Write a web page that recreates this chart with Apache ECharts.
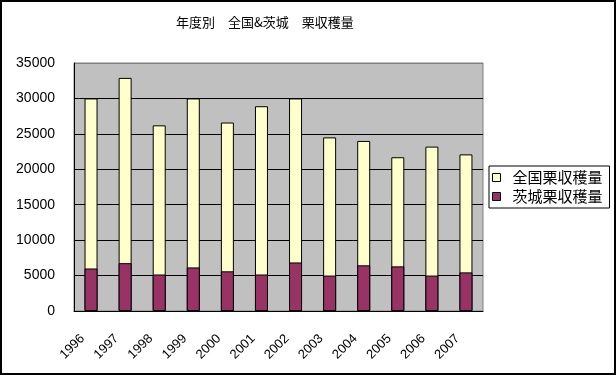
<!DOCTYPE html>
<html><head><meta charset="utf-8">
<script src="https://cdn.jsdelivr.net/npm/echarts@6/dist/echarts.min.js"></script>
<style>html,body{margin:0;padding:0;background:#fff}#c{width:616px;height:375px}</style>
</head><body><div id="c"></div>
<script>
const years = ['1996','1997','1998','1999','2000','2001','2002','2003','2004','2005','2006','2007'];
const nationalHarvest = [30000, 32900, 26200, 30000, 26600, 28900, 30000, 24500, 24000, 21700, 23200, 22100];
const ibarakiHarvest = [6000, 6750, 5150, 6150, 5600, 5150, 6850, 5000, 6450, 6300, 5000, 5450];
const nameNational = '全国栗収穫量';
const nameIbaraki = '茨城栗収穫量';
const titleText = '年度別　全国&茨城　栗収穫量';

const chart = echarts.init(document.getElementById('c'), null, {renderer:'canvas'});
const numFont = 'Liberation Sans';
const cjkFont = 'Noto Sans CJK JP';
chart.setOption({
  animation:false,
  backgroundColor:'#fff',
  title:{text:titleText,left:176,top:16,padding:0,textStyle:{fontFamily:cjkFont,fontSize:13,fontWeight:'normal',color:'#000'}},
  graphic:[{type:'rect',shape:{x:1,y:1,width:614,height:373},style:{fill:'none',stroke:'#000',lineWidth:2},silent:true,z:100}],
  legend:{orient:'vertical',left:489,top:166,padding:[4,7,4,3],itemGap:4,itemWidth:8,itemHeight:8,
    backgroundColor:'#fff',borderColor:'#000',borderWidth:1,
    icon:'rect',
    itemStyle:{borderColor:'#000',borderWidth:1},
    textStyle:{fontFamily:cjkFont,fontSize:15,color:'#000',padding:[0,0,0,7]},
    data:[nameNational,nameIbaraki]},
  grid:{left:74,right:133,top:63,bottom:64,show:true,backgroundColor:'#C0C0C0',borderColor:'#808080',borderWidth:1},
  xAxis:{type:'category',data:years,
    axisLine:{lineStyle:{color:'#000',width:1}},
    axisTick:{inside:true,length:4,lineStyle:{color:'#000'}},
    axisLabel:{rotate:45,margin:17,padding:[0,12,0,0],fontFamily:numFont,fontSize:13,color:'#000'}},
  yAxis:{type:'value',min:0,max:35000,interval:5000,
    axisLine:{show:true,lineStyle:{color:'#000',width:1}},
    axisTick:{show:false},
    axisLabel:{margin:19,fontFamily:numFont,fontSize:14,color:'#000',formatter:function(v){return String(v);}},
    splitLine:{show:true,lineStyle:{color:['#000','#000','#000','#000','#000','#000','#000','#808080'],width:1}}},
  series:[
    {name:nameNational,type:'bar',data:nationalHarvest,barWidth:13,barGap:'-100%',
      itemStyle:{color:'#FFFFCC',borderColor:'#000',borderWidth:1}},
    {name:nameIbaraki,type:'bar',data:ibarakiHarvest,barWidth:13,barGap:'-100%',
      itemStyle:{color:'#993366',borderColor:'#000',borderWidth:1}}
  ]
});
</script></body></html>
